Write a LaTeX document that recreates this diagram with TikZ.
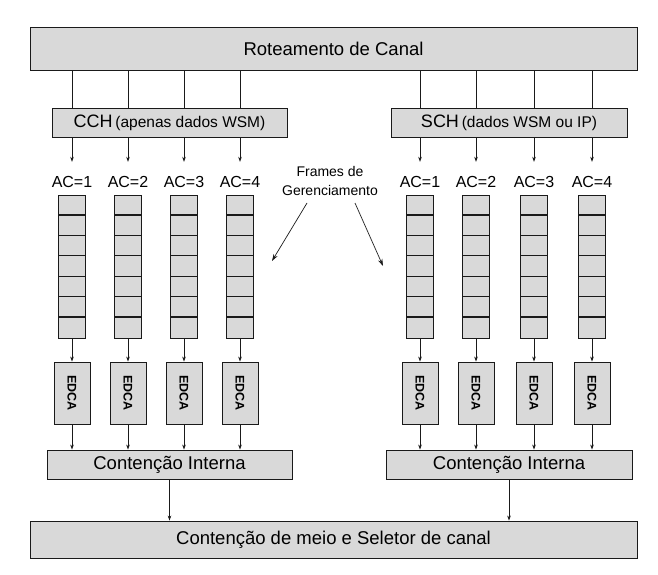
\documentclass[tikz,border=0pt]{standalone}
\usepackage{fontspec}
\usepackage{graphicx}
\setmainfont{Liberation Sans}
\usetikzlibrary{arrows.meta}
\definecolor{boxgray}{HTML}{D9D9D9}
\definecolor{edge}{HTML}{1A1A1A}
\begin{document}
\begin{tikzpicture}[x=1pt,y=-1pt,
  box/.style={draw=edge, fill=boxgray, line width=0.9pt, inner sep=0pt},
  arr/.style={-{Stealth[length=5pt,width=3.6pt]}, line width=0.7pt, draw=edge},
  farr/.style={-{Stealth[length=7pt,width=4.5pt]}, line width=0.7pt, draw=edge},
  ln/.style={line width=0.7pt, draw=edge},
  divider/.style={line width=1.3pt, draw=edge},
  big/.style={font=\fontsize{18.5}{22}\selectfont},
  aclabel/.style={font=\fontsize{16}{19}\selectfont, text height=11.5pt, text depth=0pt, inner sep=0pt, minimum height=40pt},
  queue/.style={box, minimum width=27pt, minimum height=143pt},
  edcabox/.style={box, minimum width=36pt, minimum height=62pt, font=\bfseries\fontsize{12.5}{14}\selectfont},
  chbox/.style={box, minimum height=29pt}
]
\useasboundingbox (0,0) rectangle (658,575);

% top and bottom boxes
\node[box, minimum width=607pt, minimum height=43pt, big] (top) at (333.5,48.5) {Roteamento de Canal};
\node[box, minimum width=607pt, minimum height=37pt, big] (bot) at (333.5,539.5) {Contenção de meio e Seletor de canal};

% channel boxes
\node[chbox, minimum width=235pt] (cch) at (169.5,122.5) {{\fontsize{18}{21}\selectfont CCH} {\fontsize{15.5}{18}\selectfont(apenas dados WSM)}};
\node[chbox, minimum width=236pt] (sch) at (509,122.5) {{\fontsize{18}{21}\selectfont SCH} {\fontsize{15.5}{18}\selectfont(dados WSM ou IP)}};

% internal contention boxes
\node[chbox, minimum width=245pt, big] (cil) at (169.5,464.5) {Contenção Interna};
\node[chbox, minimum width=246pt, big] (cir) at (509,464.5) {Contenção Interna};

% columns
\foreach \name/\x/\ch/\ci/\n in {l1/72/cch/cil/1, l2/128/cch/cil/2, l3/184/cch/cil/3, l4/240/cch/cil/4,
                             r1/420/sch/cir/1, r2/476/sch/cir/2, r3/534/sch/cir/3, r4/592/sch/cir/4}{
  \node[aclabel] (ac\name) at (\x,182) {AC=\n};
  \node[queue] (q\name) at (\x,266.5) {};
  \foreach \k in {1,...,6}{
    \draw[divider] ([yshift=-20.43pt*\k]q\name.north west) -- ([yshift=-20.43pt*\k]q\name.north east);
  }
  \node[edcabox] (e\name) at (\x,393) {\rotatebox{-90}{EDCA}};
  \draw[ln] (top.south -| ac\name) -- (\ch.north -| ac\name);
  \draw[arr] (\ch.south -| ac\name) -- (ac\name.north);
  \draw[arr] (q\name.south) -- (e\name.north);
  \draw[arr] (e\name.south) -- (e\name.south |- \ci.north);
}

% internal contention to medium contention
\draw[arr] (cil.south) -- (bot.north -| cil.south);
\draw[arr] (cir.south) -- (bot.north -| cir.south);

% management frames
\node[font=\fontsize{14}{19}\selectfont, align=center, inner sep=0pt] (frames) at (330,181) {Frames de\\Gerenciamento};
\coordinate (fs1) at (307,203);
\coordinate (fe1) at (272,261);
\coordinate (fs2) at (355,203);
\coordinate (fe2) at (383,266);
\draw[farr] (fs1) -- (fe1);
\draw[farr] (fs2) -- (fe2);
\end{tikzpicture}
\end{document}
